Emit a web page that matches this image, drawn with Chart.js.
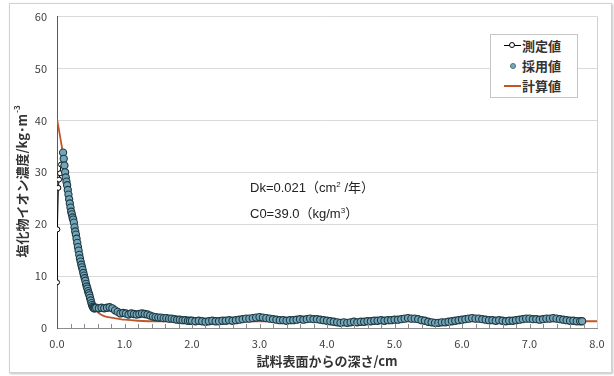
<!DOCTYPE html>
<html lang="ja">
<head>
<meta charset="utf-8">
<title>塩化物イオン濃度分布</title>
<script src="https://cdn.jsdelivr.net/npm/chart.js@4/dist/chart.umd.min.js"></script>
<style>
    body { margin: 0; background: #fff; }
    #wrap { position: relative; width: 614px; height: 376px; }
    #frame { position: absolute; left: 9px; top: 3px; width: 601px; height: 368px;
             border: 1px solid #d2d2d2; box-shadow: 1px 1px 2px rgba(0,0,0,0.25); }
    #grafica { position: absolute; left: 0; top: 0; }
    .leyenda { position: absolute; left: 490px; top: 34px; width: 86px; height: 62px;
               border: 1px solid #c6c6c6; background: #fff;
               font: bold 13px "Noto Sans CJK JP", sans-serif; color: #333; }
    .fila { position: absolute; left: 0; height: 20px; width: 86px; }
    .fila span.txt { position: absolute; left: 31px; top: 0; line-height: 20px; }
    .linea { position: absolute; left: 13px; top: 9px; width: 17px; height: 0; border-top: 1px solid #000; }
    .linea.calc { border-top: 2px solid #c0562a; top: 9px; }
    .circ { position: absolute; width: 4px; height: 4px; border-radius: 50%; }
    .nota { position: absolute; left: 250px; top: 176px; font: 13px "Liberation Sans", "Noto Sans CJK JP", sans-serif;
            color: #222; line-height: 23.5px; }
    .nota .sup { font-size: 8px; position: relative; top: -5px; }
</style>
</head>
<body>
<div id="wrap">
    <div id="frame"></div>
    <canvas id="grafica" width="614" height="376"></canvas>
    <div class="leyenda">
        <div class="fila" style="top:1px">
            <div class="linea"></div>
            <div class="circ" style="left:18px;top:6px;background:#fff;border:1px solid #000"></div>
            <span class="txt">測定値</span>
        </div>
        <div class="fila" style="top:21px">
            <div class="circ" style="left:19px;top:7px;background:#78aabd;border:1px solid #4a6f7a"></div>
            <span class="txt">採用値</span>
        </div>
        <div class="fila" style="top:41px">
            <div class="linea calc"></div>
            <span class="txt">計算値</span>
        </div>
    </div>
    <div class="nota">
        Dk=0.021（cm<span class="sup">2</span> /年）<br>
        C0=39.0（kg/m<span class="sup">3</span>）
    </div>
</div>

<script>
// 表面付近の測定値（採用値より前の点）
const sokuteiX = [0.0, 0.005, 0.02, 0.03, 0.045, 0.06];
const sokuteiY = [8.8, 19.0, 27.0, 28.6, 29.8, 31.5];

// 採用値（深さ cm / 濃度 kg/m3）
const saiyoX = [
    0.09, 0.10, 0.11, 0.12, 0.13, 0.14, 0.15, 0.16, 0.17, 0.18, 0.19, 0.20,
    0.21, 0.22, 0.23, 0.24, 0.25, 0.26, 0.27, 0.28, 0.29, 0.30, 0.31, 0.32,
    0.33, 0.34, 0.35, 0.36, 0.37, 0.38, 0.39, 0.40, 0.41, 0.42, 0.43, 0.44,
    0.45, 0.46, 0.47, 0.48, 0.49, 0.50, 0.51, 0.52, 0.53, 0.54, 0.55, 0.56,
    0.58, 0.62, 0.66, 0.70, 0.74, 0.78, 0.82, 0.86, 0.90, 0.94, 0.98, 1.02,
    1.06, 1.10, 1.14, 1.18, 1.22, 1.26, 1.30, 1.34, 1.38, 1.42, 1.46, 1.50,
    1.54, 1.58, 1.62, 1.66, 1.70, 1.74, 1.78, 1.82, 1.86, 1.90, 1.94, 1.97,
    2.00, 2.05, 2.10, 2.15, 2.20, 2.25, 2.30, 2.35, 2.40, 2.45, 2.50, 2.55,
    2.60, 2.65, 2.70, 2.75, 2.80, 2.85, 2.90, 2.95, 3.00, 3.05, 3.10, 3.15,
    3.20, 3.25, 3.30, 3.35, 3.40, 3.45, 3.50, 3.55, 3.60, 3.65, 3.70, 3.75,
    3.80, 3.85, 3.90, 3.95, 4.00, 4.05, 4.10, 4.15, 4.20, 4.25, 4.30, 4.35,
    4.40, 4.45, 4.50, 4.55, 4.60, 4.65, 4.70, 4.75, 4.80, 4.85, 4.90, 4.95,
    5.00, 5.05, 5.10, 5.15, 5.20, 5.25, 5.30, 5.35, 5.40, 5.45, 5.50, 5.55,
    5.60, 5.65, 5.70, 5.75, 5.80, 5.85, 5.90, 5.95, 6.00, 6.05, 6.10, 6.15,
    6.20, 6.25, 6.30, 6.35, 6.40, 6.45, 6.50, 6.55, 6.60, 6.65, 6.70, 6.75,
    6.80, 6.85, 6.90, 6.95, 7.00, 7.05, 7.10, 7.15, 7.20, 7.25, 7.30, 7.35,
    7.40, 7.45, 7.50, 7.55, 7.60, 7.65, 7.70, 7.75, 7.78
];
const saiyoY = [
    33.8, 32.6, 31.3, 30.0, 29.0, 28.2, 27.5, 26.6, 25.7, 24.8, 24.0, 23.2,
    22.4, 21.9, 21.3, 20.9, 20.3, 19.4, 18.6, 18.0, 17.2, 16.4, 15.6, 14.9,
    14.1, 13.4, 12.8, 12.2, 11.7, 11.2, 10.6, 10.1, 9.6, 9.1, 8.5, 8.0,
    7.6, 7.1, 6.7, 6.3, 5.8, 5.3, 4.8, 4.4, 4.1, 3.9, 3.8, 3.8,
    3.9, 3.8, 3.9, 3.8, 3.9, 4.0, 3.8, 3.4, 3.1, 2.8, 2.9, 2.8,
    2.6, 2.8, 2.7, 2.6, 2.7, 2.8, 2.7, 2.6, 2.4, 2.2, 2.1, 2.0,
    2.0, 1.9, 1.9, 1.8, 1.8, 1.7, 1.6, 1.6, 1.5, 1.5, 1.4, 1.4,
    1.4, 1.3, 1.4, 1.3, 1.2, 1.3, 1.4, 1.3, 1.3, 1.4, 1.4, 1.5,
    1.4, 1.5, 1.6, 1.7, 1.8, 1.8, 1.9, 2.0, 2.1, 2.0, 1.9, 1.8,
    1.7, 1.6, 1.5, 1.5, 1.4, 1.5, 1.5, 1.6, 1.7, 1.6, 1.7, 1.8,
    1.7, 1.7, 1.6, 1.5, 1.4, 1.3, 1.2, 1.1, 1.0, 1.1, 1.0, 1.1,
    1.2, 1.1, 1.2, 1.2, 1.3, 1.3, 1.4, 1.4, 1.5, 1.4, 1.5, 1.5,
    1.6, 1.6, 1.7, 1.8, 1.9, 1.8, 1.8, 1.7, 1.5, 1.4, 1.2, 1.1,
    1.0, 1.0, 1.1, 1.1, 1.2, 1.3, 1.4, 1.5, 1.6, 1.7, 1.8, 1.9,
    1.8, 1.8, 1.7, 1.6, 1.5, 1.5, 1.4, 1.5, 1.4, 1.3, 1.4, 1.4,
    1.5, 1.6, 1.7, 1.8, 1.8, 1.7, 1.7, 1.6, 1.7, 1.8, 1.8, 1.9,
    1.8, 1.7, 1.6, 1.5, 1.4, 1.4, 1.3, 1.3, 1.3
];

// 計算値（拡散方程式の曲線を読み取ったもの）
const keisanX = [0.0, 0.05, 0.1, 0.15, 0.2, 0.25, 0.3, 0.35, 0.4, 0.45, 0.5, 0.55,
                 0.6, 0.65, 0.7, 0.8, 0.9, 1.0, 1.2, 1.5, 2.0, 3.0, 4.0, 5.0, 6.0, 7.0, 8.0];
const keisanY = [40.3, 36.6, 32.8, 28.8, 24.6, 20.8, 17.3, 14.0, 11.0, 8.3, 5.7, 3.9,
                 3.1, 2.6, 2.3, 2.0, 1.8, 1.6, 1.4, 1.3, 1.3, 1.3, 1.3, 1.3, 1.3, 1.3, 1.3];

const yTicks = [0, 10, 20, 30, 40, 50, 60];
const xTicks = [0, 1, 2, 3, 4, 5, 6, 7, 8];

function puntos(xs, ys) {
    return xs.map(function (x, i) { return { x: x, y: ys[i] }; });
}

// 軸タイトル・目盛り・枠線
const extras = {
    id: 'extras',
    afterDraw: function (chart) {
        const ctx = chart.ctx;
        const area = chart.chartArea;
        const xs = chart.scales.x;

        ctx.save();
        // 右側の枠線
        ctx.strokeStyle = '#d0d0d0';
        ctx.lineWidth = 1;
        ctx.beginPath();
        ctx.moveTo(area.right + 0.5, area.top);
        ctx.lineTo(area.right + 0.5, area.bottom);
        ctx.stroke();

        // x軸の補助目盛り（内向き）
        ctx.strokeStyle = '#8c8c8c';
        for (let v = 0.2; v < 8; v += 0.2) {
            const px = Math.round(xs.getPixelForValue(v)) + 0.5;
            ctx.beginPath();
            ctx.moveTo(px, area.bottom);
            ctx.lineTo(px, area.bottom - 4);
            ctx.stroke();
        }

        // x軸タイトル
        ctx.fillStyle = '#333';
        ctx.font = 'bold 13px "Noto Sans CJK JP", sans-serif';
        ctx.textAlign = 'center';
        ctx.textBaseline = 'middle';
        ctx.fillText('試料表面からの深さ/cm', 327, 361);

        // y軸タイトル（上付き -3）
        ctx.translate(22, 182);
        ctx.rotate(-Math.PI / 2);
        const base = '塩化物イオン濃度/kg･m';
        const sup = '-3';
        ctx.font = 'bold 13px "Noto Sans CJK JP", sans-serif';
        const w1 = ctx.measureText(base).width;
        ctx.font = 'bold 8px "Noto Sans CJK JP", sans-serif';
        const w2 = ctx.measureText(sup).width;
        const start = -(w1 + w2) / 2;
        ctx.textAlign = 'left';
        ctx.font = 'bold 13px "Noto Sans CJK JP", sans-serif';
        ctx.fillText(base, start, 0);
        ctx.font = 'bold 8px "Noto Sans CJK JP", sans-serif';
        ctx.fillText(sup, start + w1 + 1, -5);
        ctx.restore();
    }
};

function crearGrafica() {
    const datos = {
        datasets: [
            {
                label: '採用値',
                data: puntos(saiyoX, saiyoY),
                showLine: false,
                pointRadius: 3.6,
                pointBackgroundColor: '#74a6ba',
                pointBorderColor: '#1e3943',
                pointBorderWidth: 1.1,
                order: 0
            },
            {
                label: '計算値',
                data: puntos(keisanX, keisanY),
                showLine: true,
                pointRadius: 0,
                borderColor: '#c0562a',
                borderWidth: 1.8,
                cubicInterpolationMode: 'monotone',
                order: 1
            },
            {
                label: '測定値',
                data: puntos(sokuteiX.concat(saiyoX), sokuteiY.concat(saiyoY)),
                showLine: true,
                borderColor: '#000',
                borderWidth: 1,
                pointRadius: 2.5,
                pointBackgroundColor: '#fff',
                pointBorderColor: '#000',
                pointBorderWidth: 1,
                order: 2
            }
        ]
    };

    const opciones = {
        responsive: false,
        animation: false,
        layout: { padding: { left: 10, right: 17, top: 13, bottom: 0 } },
        plugins: { legend: { display: false }, tooltip: { enabled: false } },
        scales: {
            x: {
                type: 'linear',
                min: 0, max: 8,
                afterFit: function (s) { s.height = 48; },
                afterBuildTicks: function (s) { s.ticks = xTicks.map(function (v) { return { value: v }; }); },
                grid: { display: false, drawTicks: false },
                border: { color: '#8c8c8c', width: 1 },
                ticks: {
                    padding: 9,
                    color: '#404040',
                    font: { family: '"Noto Sans CJK JP", sans-serif', size: 11 },
                    callback: function (v) { return Number(v).toFixed(1); }
                }
            },
            y: {
                min: 0, max: 60,
                afterFit: function (s) { s.width = 47; },
                afterBuildTicks: function (s) { s.ticks = yTicks.map(function (v) { return { value: v }; }); },
                grid: { color: '#d9d9d9', drawTicks: false },
                border: { color: '#595959', width: 1 },
                ticks: {
                    padding: 10,
                    color: '#404040',
                    font: { family: '"Noto Sans CJK JP", sans-serif', size: 11 }
                }
            }
        }
    };

    new Chart(document.getElementById('grafica'), {
        type: 'scatter',
        data: datos,
        options: opciones,
        plugins: [extras]
    });
}

window.addEventListener('load', function () {
    crearGrafica();
});
</script>
</body>
</html>
